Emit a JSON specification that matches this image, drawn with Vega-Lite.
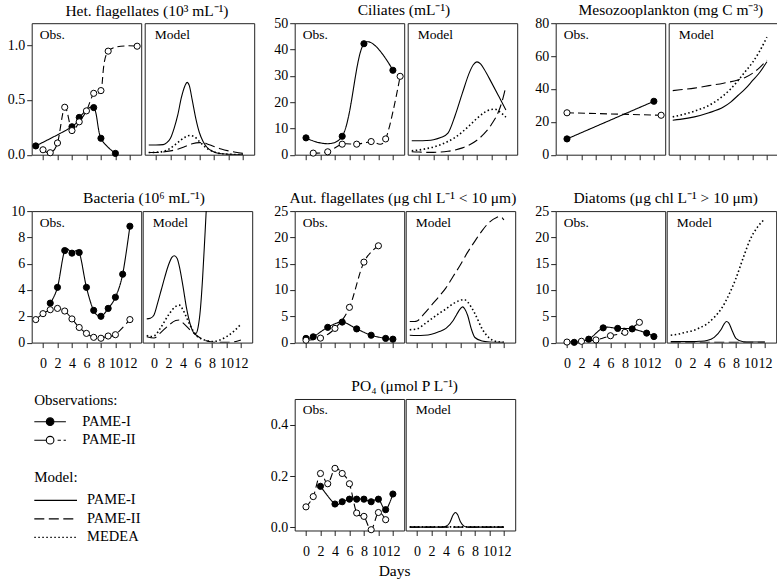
{
"$schema":"https://vega.github.io/schema/vega-lite/v6.json",
"padding":{"left":2.7,"top":3.2,"right":2,"bottom":2},
"datasets":{
"obs":[
{"panel":"het","series":"PAME-I","day":-1,"value":0.08},{"panel":"het","series":"PAME-I","day":4,"value":0.255},{"panel":"het","series":"PAME-I","day":5,"value":0.34},{"panel":"het","series":"PAME-I","day":7,"value":0.43},{"panel":"het","series":"PAME-I","day":8,"value":0.15},{"panel":"het","series":"PAME-I","day":10,"value":0.012},
{"panel":"het","series":"PAME-II","day":0,"value":0.045},{"panel":"het","series":"PAME-II","day":1,"value":0.018},{"panel":"het","series":"PAME-II","day":2,"value":0.107},{"panel":"het","series":"PAME-II","day":3,"value":0.433},{"panel":"het","series":"PAME-II","day":4,"value":0.22},{"panel":"het","series":"PAME-II","day":5,"value":0.3},{"panel":"het","series":"PAME-II","day":6,"value":0.4},{"panel":"het","series":"PAME-II","day":7,"value":0.56},{"panel":"het","series":"PAME-II","day":8,"value":0.585},{"panel":"het","series":"PAME-II","day":9,"value":0.945},{"panel":"het","series":"PAME-II","day":13,"value":0.99},
{"panel":"cil","series":"PAME-I","day":0,"value":6.4},{"panel":"cil","series":"PAME-I","day":5,"value":7.0},{"panel":"cil","series":"PAME-I","day":8,"value":42.2},{"panel":"cil","series":"PAME-I","day":12,"value":32.1},
{"panel":"cil","series":"PAME-II","day":1,"value":0.6},{"panel":"cil","series":"PAME-II","day":3,"value":1.1},{"panel":"cil","series":"PAME-II","day":5,"value":4.0},{"panel":"cil","series":"PAME-II","day":7,"value":4.0},{"panel":"cil","series":"PAME-II","day":9,"value":5.0},{"panel":"cil","series":"PAME-II","day":11,"value":6.0},{"panel":"cil","series":"PAME-II","day":13,"value":29.8},
{"panel":"meso","series":"PAME-I","day":0,"value":9.6},{"panel":"meso","series":"PAME-I","day":12,"value":32.5},
{"panel":"meso","series":"PAME-II","day":0,"value":25.5},{"panel":"meso","series":"PAME-II","day":13,"value":24.0},
{"panel":"bac","series":"PAME-I","day":1,"value":3.0},{"panel":"bac","series":"PAME-I","day":2,"value":4.2},{"panel":"bac","series":"PAME-I","day":3,"value":7.0},{"panel":"bac","series":"PAME-I","day":4,"value":6.8},{"panel":"bac","series":"PAME-I","day":5,"value":6.85},{"panel":"bac","series":"PAME-I","day":6,"value":4.2},{"panel":"bac","series":"PAME-I","day":7,"value":2.45},{"panel":"bac","series":"PAME-I","day":8,"value":2.0},{"panel":"bac","series":"PAME-I","day":9,"value":2.6},{"panel":"bac","series":"PAME-I","day":10,"value":3.45},{"panel":"bac","series":"PAME-I","day":11,"value":5.2},{"panel":"bac","series":"PAME-I","day":12,"value":8.85},
{"panel":"bac","series":"PAME-II","day":-1,"value":1.75},{"panel":"bac","series":"PAME-II","day":0,"value":2.2},{"panel":"bac","series":"PAME-II","day":1,"value":2.5},{"panel":"bac","series":"PAME-II","day":2,"value":2.6},{"panel":"bac","series":"PAME-II","day":3,"value":2.4},{"panel":"bac","series":"PAME-II","day":4,"value":1.8},{"panel":"bac","series":"PAME-II","day":5,"value":1.15},{"panel":"bac","series":"PAME-II","day":6,"value":0.7},{"panel":"bac","series":"PAME-II","day":7,"value":0.4},{"panel":"bac","series":"PAME-II","day":8,"value":0.33},{"panel":"bac","series":"PAME-II","day":9,"value":0.5},{"panel":"bac","series":"PAME-II","day":10,"value":0.6},{"panel":"bac","series":"PAME-II","day":12,"value":1.75},
{"panel":"aut","series":"PAME-I","day":0,"value":0.8},{"panel":"aut","series":"PAME-I","day":1,"value":1.1},{"panel":"aut","series":"PAME-I","day":3,"value":2.9},{"panel":"aut","series":"PAME-I","day":5,"value":3.9},{"panel":"aut","series":"PAME-I","day":7,"value":2.6},{"panel":"aut","series":"PAME-I","day":9,"value":1.4},{"panel":"aut","series":"PAME-I","day":11,"value":0.8},{"panel":"aut","series":"PAME-I","day":12,"value":0.65},
{"panel":"aut","series":"PAME-II","day":0,"value":0.45},{"panel":"aut","series":"PAME-II","day":2,"value":0.85},{"panel":"aut","series":"PAME-II","day":4,"value":2.7},{"panel":"aut","series":"PAME-II","day":6,"value":6.7},{"panel":"aut","series":"PAME-II","day":8,"value":15.3},{"panel":"aut","series":"PAME-II","day":10,"value":18.4},
{"panel":"dia","series":"PAME-I","day":1,"value":0.05},{"panel":"dia","series":"PAME-I","day":3,"value":0.65},{"panel":"dia","series":"PAME-I","day":5,"value":2.8},{"panel":"dia","series":"PAME-I","day":7,"value":2.7},{"panel":"dia","series":"PAME-I","day":9,"value":2.6},{"panel":"dia","series":"PAME-I","day":11,"value":1.8},{"panel":"dia","series":"PAME-I","day":12,"value":1.15},
{"panel":"dia","series":"PAME-II","day":0,"value":0.1},{"panel":"dia","series":"PAME-II","day":2,"value":0.25},{"panel":"dia","series":"PAME-II","day":4,"value":0.5},{"panel":"dia","series":"PAME-II","day":6,"value":1.3},{"panel":"dia","series":"PAME-II","day":8,"value":1.95},{"panel":"dia","series":"PAME-II","day":10,"value":3.85},
{"panel":"po4","series":"PAME-I","day":2,"value":0.16},{"panel":"po4","series":"PAME-I","day":4,"value":0.091},{"panel":"po4","series":"PAME-I","day":5,"value":0.1},{"panel":"po4","series":"PAME-I","day":6,"value":0.11},{"panel":"po4","series":"PAME-I","day":7,"value":0.11},{"panel":"po4","series":"PAME-I","day":8,"value":0.11},{"panel":"po4","series":"PAME-I","day":9,"value":0.1},{"panel":"po4","series":"PAME-I","day":10,"value":0.11},{"panel":"po4","series":"PAME-I","day":11,"value":0.069},{"panel":"po4","series":"PAME-I","day":12,"value":0.13},
{"panel":"po4","series":"PAME-II","day":0,"value":0.08},{"panel":"po4","series":"PAME-II","day":1,"value":0.12},{"panel":"po4","series":"PAME-II","day":2,"value":0.21},{"panel":"po4","series":"PAME-II","day":3,"value":0.17},{"panel":"po4","series":"PAME-II","day":4,"value":0.23},{"panel":"po4","series":"PAME-II","day":5,"value":0.21},{"panel":"po4","series":"PAME-II","day":6,"value":0.17},{"panel":"po4","series":"PAME-II","day":7,"value":0.056},{"panel":"po4","series":"PAME-II","day":8,"value":0.043},{"panel":"po4","series":"PAME-II","day":9,"value":-0.009},{"panel":"po4","series":"PAME-II","day":10,"value":0.058},{"panel":"po4","series":"PAME-II","day":11,"value":0.03}
],
"model":[
{"panel":"het","series":"PAME-I","day":-1,"value":0.088},{"panel":"het","series":"PAME-I","day":0,"value":0.088},{"panel":"het","series":"PAME-I","day":1,"value":0.092},{"panel":"het","series":"PAME-I","day":1.5,"value":0.11},{"panel":"het","series":"PAME-I","day":2,"value":0.15},{"panel":"het","series":"PAME-I","day":2.5,"value":0.24},{"panel":"het","series":"PAME-I","day":3,"value":0.36},{"panel":"het","series":"PAME-I","day":3.5,"value":0.52},{"panel":"het","series":"PAME-I","day":4,"value":0.63},{"panel":"het","series":"PAME-I","day":4.3,"value":0.66},{"panel":"het","series":"PAME-I","day":4.6,"value":0.63},{"panel":"het","series":"PAME-I","day":5,"value":0.5},{"panel":"het","series":"PAME-I","day":5.5,"value":0.33},{"panel":"het","series":"PAME-I","day":6,"value":0.2},{"panel":"het","series":"PAME-I","day":6.5,"value":0.12},{"panel":"het","series":"PAME-I","day":7,"value":0.07},{"panel":"het","series":"PAME-I","day":8,"value":0.025},{"panel":"het","series":"PAME-I","day":9,"value":0.008},{"panel":"het","series":"PAME-I","day":10,"value":0.003},{"panel":"het","series":"PAME-I","day":12,"value":0.001},
{"panel":"het","series":"PAME-II","day":-1,"value":0.02},{"panel":"het","series":"PAME-II","day":0,"value":0.02},{"panel":"het","series":"PAME-II","day":1,"value":0.025},{"panel":"het","series":"PAME-II","day":2,"value":0.035},{"panel":"het","series":"PAME-II","day":3,"value":0.05},{"panel":"het","series":"PAME-II","day":4,"value":0.075},{"panel":"het","series":"PAME-II","day":5,"value":0.1},{"panel":"het","series":"PAME-II","day":6,"value":0.11},{"panel":"het","series":"PAME-II","day":6.5,"value":0.11},{"panel":"het","series":"PAME-II","day":7,"value":0.1},{"panel":"het","series":"PAME-II","day":8,"value":0.075},{"panel":"het","series":"PAME-II","day":9,"value":0.052},{"panel":"het","series":"PAME-II","day":10,"value":0.035},{"panel":"het","series":"PAME-II","day":11,"value":0.022},{"panel":"het","series":"PAME-II","day":12,"value":0.012},
{"panel":"het","series":"MEDEA","day":-1,"value":0.02},{"panel":"het","series":"MEDEA","day":0,"value":0.022},{"panel":"het","series":"MEDEA","day":1,"value":0.03},{"panel":"het","series":"MEDEA","day":2,"value":0.06},{"panel":"het","series":"MEDEA","day":3,"value":0.11},{"panel":"het","series":"MEDEA","day":4,"value":0.16},{"panel":"het","series":"MEDEA","day":4.7,"value":0.175},{"panel":"het","series":"MEDEA","day":5.3,"value":0.165},{"panel":"het","series":"MEDEA","day":6,"value":0.12},{"panel":"het","series":"MEDEA","day":7,"value":0.06},{"panel":"het","series":"MEDEA","day":8,"value":0.025},{"panel":"het","series":"MEDEA","day":9,"value":0.01},{"panel":"het","series":"MEDEA","day":10,"value":0.004},{"panel":"het","series":"MEDEA","day":12,"value":0.001},
{"panel":"cil","series":"PAME-I","day":-1,"value":5.3},{"panel":"cil","series":"PAME-I","day":0,"value":5.3},{"panel":"cil","series":"PAME-I","day":1,"value":5.4},{"panel":"cil","series":"PAME-I","day":2,"value":5.7},{"panel":"cil","series":"PAME-I","day":3,"value":6.5},{"panel":"cil","series":"PAME-I","day":4,"value":8.2},{"panel":"cil","series":"PAME-I","day":5,"value":15},{"panel":"cil","series":"PAME-I","day":6,"value":23.5},{"panel":"cil","series":"PAME-I","day":7,"value":31.5},{"panel":"cil","series":"PAME-I","day":7.5,"value":34.2},{"panel":"cil","series":"PAME-I","day":8,"value":35.3},{"panel":"cil","series":"PAME-I","day":8.5,"value":34.5},{"panel":"cil","series":"PAME-I","day":9,"value":32.5},{"panel":"cil","series":"PAME-I","day":10,"value":27.5},{"panel":"cil","series":"PAME-I","day":11,"value":22.3},{"panel":"cil","series":"PAME-I","day":12,"value":17},
{"panel":"cil","series":"PAME-II","day":-1,"value":1.1},{"panel":"cil","series":"PAME-II","day":0,"value":1.0},{"panel":"cil","series":"PAME-II","day":1,"value":0.9},{"panel":"cil","series":"PAME-II","day":2,"value":0.9},{"panel":"cil","series":"PAME-II","day":3,"value":1.0},{"panel":"cil","series":"PAME-II","day":4,"value":1.3},{"panel":"cil","series":"PAME-II","day":5,"value":1.8},{"panel":"cil","series":"PAME-II","day":6,"value":2.6},{"panel":"cil","series":"PAME-II","day":7,"value":3.8},{"panel":"cil","series":"PAME-II","day":8,"value":5.5},{"panel":"cil","series":"PAME-II","day":9,"value":8.0},{"panel":"cil","series":"PAME-II","day":10,"value":11.5},{"panel":"cil","series":"PAME-II","day":11,"value":16.5},{"panel":"cil","series":"PAME-II","day":11.5,"value":20.5},{"panel":"cil","series":"PAME-II","day":12,"value":26},
{"panel":"cil","series":"MEDEA","day":-1,"value":1.5},{"panel":"cil","series":"MEDEA","day":0,"value":1.8},{"panel":"cil","series":"MEDEA","day":1,"value":2.3},{"panel":"cil","series":"MEDEA","day":2,"value":2.9},{"panel":"cil","series":"MEDEA","day":3,"value":3.8},{"panel":"cil","series":"MEDEA","day":4,"value":5.0},{"panel":"cil","series":"MEDEA","day":5,"value":6.6},{"panel":"cil","series":"MEDEA","day":6,"value":8.7},{"panel":"cil","series":"MEDEA","day":7,"value":11.2},{"panel":"cil","series":"MEDEA","day":8,"value":13.8},{"panel":"cil","series":"MEDEA","day":9,"value":16},{"panel":"cil","series":"MEDEA","day":10,"value":17.2},{"panel":"cil","series":"MEDEA","day":10.5,"value":17.3},{"panel":"cil","series":"MEDEA","day":11,"value":16.6},{"panel":"cil","series":"MEDEA","day":12,"value":14.3},
{"panel":"meso","series":"PAME-I","day":-1,"value":21},{"panel":"meso","series":"PAME-I","day":0,"value":21.5},{"panel":"meso","series":"PAME-I","day":2,"value":23},{"panel":"meso","series":"PAME-I","day":4,"value":25.5},{"panel":"meso","series":"PAME-I","day":6,"value":29},{"panel":"meso","series":"PAME-I","day":7,"value":32},{"panel":"meso","series":"PAME-I","day":8,"value":36},{"panel":"meso","series":"PAME-I","day":9,"value":40},{"panel":"meso","series":"PAME-I","day":10,"value":45},{"panel":"meso","series":"PAME-I","day":11,"value":50},{"panel":"meso","series":"PAME-I","day":12,"value":56.5},
{"panel":"meso","series":"PAME-II","day":-1,"value":39},{"panel":"meso","series":"PAME-II","day":0,"value":39.5},{"panel":"meso","series":"PAME-II","day":2,"value":40.5},{"panel":"meso","series":"PAME-II","day":4,"value":42},{"panel":"meso","series":"PAME-II","day":6,"value":43.5},{"panel":"meso","series":"PAME-II","day":8,"value":45.5},{"panel":"meso","series":"PAME-II","day":9,"value":47},{"panel":"meso","series":"PAME-II","day":10,"value":49.5},{"panel":"meso","series":"PAME-II","day":11,"value":53},{"panel":"meso","series":"PAME-II","day":12,"value":57.5},
{"panel":"meso","series":"MEDEA","day":-1,"value":23},{"panel":"meso","series":"MEDEA","day":0,"value":24},{"panel":"meso","series":"MEDEA","day":2,"value":26.5},{"panel":"meso","series":"MEDEA","day":4,"value":30},{"panel":"meso","series":"MEDEA","day":6,"value":36},{"panel":"meso","series":"MEDEA","day":7,"value":40},{"panel":"meso","series":"MEDEA","day":8,"value":45},{"panel":"meso","series":"MEDEA","day":9,"value":50.5},{"panel":"meso","series":"MEDEA","day":10,"value":56},{"panel":"meso","series":"MEDEA","day":11,"value":63},{"panel":"meso","series":"MEDEA","day":12,"value":71.5},
{"panel":"bac","series":"PAME-I","day":-1,"value":1.8},{"panel":"bac","series":"PAME-I","day":-0.5,"value":1.85},{"panel":"bac","series":"PAME-I","day":0,"value":2.1},{"panel":"bac","series":"PAME-I","day":0.5,"value":3.0},{"panel":"bac","series":"PAME-I","day":1,"value":4.0},{"panel":"bac","series":"PAME-I","day":1.5,"value":5.0},{"panel":"bac","series":"PAME-I","day":2,"value":5.9},{"panel":"bac","series":"PAME-I","day":2.5,"value":6.5},{"panel":"bac","series":"PAME-I","day":2.8,"value":6.6},{"panel":"bac","series":"PAME-I","day":3.2,"value":6.4},{"panel":"bac","series":"PAME-I","day":3.5,"value":5.8},{"panel":"bac","series":"PAME-I","day":4,"value":4.3},{"panel":"bac","series":"PAME-I","day":4.5,"value":2.6},{"panel":"bac","series":"PAME-I","day":5,"value":1.4},{"panel":"bac","series":"PAME-I","day":5.5,"value":0.75},{"panel":"bac","series":"PAME-I","day":5.8,"value":0.7},{"panel":"bac","series":"PAME-I","day":6.1,"value":1.2},{"panel":"bac","series":"PAME-I","day":6.4,"value":2.5},{"panel":"bac","series":"PAME-I","day":6.7,"value":4.8},{"panel":"bac","series":"PAME-I","day":7,"value":7.8},{"panel":"bac","series":"PAME-I","day":7.3,"value":11},{"panel":"bac","series":"PAME-I","day":7.6,"value":15},
{"panel":"bac","series":"PAME-II","day":-1,"value":0.45},{"panel":"bac","series":"PAME-II","day":0,"value":0.35},{"panel":"bac","series":"PAME-II","day":1,"value":0.8},{"panel":"bac","series":"PAME-II","day":2,"value":1.3},{"panel":"bac","series":"PAME-II","day":3,"value":1.68},{"panel":"bac","series":"PAME-II","day":3.5,"value":1.72},{"panel":"bac","series":"PAME-II","day":4,"value":1.5},{"panel":"bac","series":"PAME-II","day":5,"value":0.95},{"panel":"bac","series":"PAME-II","day":6,"value":0.5},{"panel":"bac","series":"PAME-II","day":7,"value":0.18},{"panel":"bac","series":"PAME-II","day":8,"value":0.05},{"panel":"bac","series":"PAME-II","day":9,"value":0.02},{"panel":"bac","series":"PAME-II","day":10,"value":0.02},{"panel":"bac","series":"PAME-II","day":11,"value":0.05},{"panel":"bac","series":"PAME-II","day":12,"value":0.2},
{"panel":"bac","series":"MEDEA","day":-1,"value":0.55},{"panel":"bac","series":"MEDEA","day":-0.5,"value":0.45},{"panel":"bac","series":"MEDEA","day":0,"value":0.5},{"panel":"bac","series":"MEDEA","day":1,"value":1.2},{"panel":"bac","series":"MEDEA","day":2,"value":2.1},{"panel":"bac","series":"MEDEA","day":3,"value":2.75},{"panel":"bac","series":"MEDEA","day":3.5,"value":2.85},{"panel":"bac","series":"MEDEA","day":4,"value":2.5},{"panel":"bac","series":"MEDEA","day":4.5,"value":1.9},{"panel":"bac","series":"MEDEA","day":5,"value":1.3},{"panel":"bac","series":"MEDEA","day":5.5,"value":0.8},{"panel":"bac","series":"MEDEA","day":6,"value":0.45},{"panel":"bac","series":"MEDEA","day":7,"value":0.2},{"panel":"bac","series":"MEDEA","day":8,"value":0.08},{"panel":"bac","series":"MEDEA","day":9,"value":0.18},{"panel":"bac","series":"MEDEA","day":10,"value":0.45},{"panel":"bac","series":"MEDEA","day":11,"value":0.85},{"panel":"bac","series":"MEDEA","day":12,"value":1.4},
{"panel":"aut","series":"PAME-I","day":-1,"value":1.4},{"panel":"aut","series":"PAME-I","day":0,"value":1.35},{"panel":"aut","series":"PAME-I","day":1,"value":1.4},{"panel":"aut","series":"PAME-I","day":2,"value":1.6},{"panel":"aut","series":"PAME-I","day":3,"value":2.05},{"panel":"aut","series":"PAME-I","day":4,"value":2.7},{"panel":"aut","series":"PAME-I","day":5,"value":4.2},{"panel":"aut","series":"PAME-I","day":5.5,"value":5.4},{"panel":"aut","series":"PAME-I","day":6,"value":6.45},{"panel":"aut","series":"PAME-I","day":6.3,"value":6.8},{"panel":"aut","series":"PAME-I","day":6.6,"value":6.4},{"panel":"aut","series":"PAME-I","day":7,"value":5.15},{"panel":"aut","series":"PAME-I","day":7.5,"value":2.6},{"panel":"aut","series":"PAME-I","day":8,"value":0.97},{"panel":"aut","series":"PAME-I","day":9,"value":0.3},{"panel":"aut","series":"PAME-I","day":10,"value":0.1},{"panel":"aut","series":"PAME-I","day":11,"value":0.05},{"panel":"aut","series":"PAME-I","day":12,"value":0.05},
{"panel":"aut","series":"PAME-II","day":-1,"value":4.0},{"panel":"aut","series":"PAME-II","day":-0.3,"value":4.0},{"panel":"aut","series":"PAME-II","day":0,"value":4.1},{"panel":"aut","series":"PAME-II","day":1,"value":5.5},{"panel":"aut","series":"PAME-II","day":2,"value":7.1},{"panel":"aut","series":"PAME-II","day":3,"value":8.7},{"panel":"aut","series":"PAME-II","day":4,"value":10.4},{"panel":"aut","series":"PAME-II","day":5,"value":12.6},{"panel":"aut","series":"PAME-II","day":6,"value":14.8},{"panel":"aut","series":"PAME-II","day":7,"value":17.2},{"panel":"aut","series":"PAME-II","day":8,"value":19.3},{"panel":"aut","series":"PAME-II","day":9,"value":21.3},{"panel":"aut","series":"PAME-II","day":10,"value":22.9},{"panel":"aut","series":"PAME-II","day":11,"value":23.8},{"panel":"aut","series":"PAME-II","day":11.5,"value":24},{"panel":"aut","series":"PAME-II","day":12,"value":23.3},
{"panel":"aut","series":"MEDEA","day":-1,"value":2.45},{"panel":"aut","series":"MEDEA","day":0,"value":2.6},{"panel":"aut","series":"MEDEA","day":1,"value":3.5},{"panel":"aut","series":"MEDEA","day":2,"value":4.5},{"panel":"aut","series":"MEDEA","day":3,"value":5.5},{"panel":"aut","series":"MEDEA","day":4,"value":6.4},{"panel":"aut","series":"MEDEA","day":5,"value":7.4},{"panel":"aut","series":"MEDEA","day":6,"value":8.05},{"panel":"aut","series":"MEDEA","day":6.5,"value":8.2},{"panel":"aut","series":"MEDEA","day":7,"value":7.7},{"panel":"aut","series":"MEDEA","day":8,"value":5.5},{"panel":"aut","series":"MEDEA","day":9,"value":2.6},{"panel":"aut","series":"MEDEA","day":10,"value":0.85},{"panel":"aut","series":"MEDEA","day":11,"value":0.2},{"panel":"aut","series":"MEDEA","day":12,"value":0.05},
{"panel":"dia","series":"PAME-I","day":-1,"value":0.2},{"panel":"dia","series":"PAME-I","day":0,"value":0.2},{"panel":"dia","series":"PAME-I","day":1,"value":0.2},{"panel":"dia","series":"PAME-I","day":2,"value":0.2},{"panel":"dia","series":"PAME-I","day":3,"value":0.25},{"panel":"dia","series":"PAME-I","day":4,"value":0.4},{"panel":"dia","series":"PAME-I","day":5,"value":1.0},{"panel":"dia","series":"PAME-I","day":6,"value":2.6},{"panel":"dia","series":"PAME-I","day":6.4,"value":3.6},{"panel":"dia","series":"PAME-I","day":6.7,"value":4.0},{"panel":"dia","series":"PAME-I","day":7,"value":3.75},{"panel":"dia","series":"PAME-I","day":7.5,"value":2.2},{"panel":"dia","series":"PAME-I","day":8,"value":0.8},{"panel":"dia","series":"PAME-I","day":9,"value":0.15},{"panel":"dia","series":"PAME-I","day":10,"value":0.1},{"panel":"dia","series":"PAME-I","day":12,"value":0.1},
{"panel":"dia","series":"PAME-II","day":-1,"value":0.05},{"panel":"dia","series":"PAME-II","day":4,"value":0.05},{"panel":"dia","series":"PAME-II","day":8,"value":0.05},{"panel":"dia","series":"PAME-II","day":12,"value":0.05},
{"panel":"dia","series":"MEDEA","day":-1,"value":1.4},{"panel":"dia","series":"MEDEA","day":0,"value":1.6},{"panel":"dia","series":"MEDEA","day":1,"value":1.95},{"panel":"dia","series":"MEDEA","day":2,"value":2.25},{"panel":"dia","series":"MEDEA","day":3,"value":2.8},{"panel":"dia","series":"MEDEA","day":4,"value":3.55},{"panel":"dia","series":"MEDEA","day":5,"value":4.8},{"panel":"dia","series":"MEDEA","day":6,"value":6.45},{"panel":"dia","series":"MEDEA","day":7,"value":9.0},{"panel":"dia","series":"MEDEA","day":8,"value":12.2},{"panel":"dia","series":"MEDEA","day":9,"value":16.1},{"panel":"dia","series":"MEDEA","day":10,"value":19.7},{"panel":"dia","series":"MEDEA","day":11,"value":22},{"panel":"dia","series":"MEDEA","day":12,"value":23.5},
{"panel":"po4","series":"PAME-I","day":-1,"value":0.001},{"panel":"po4","series":"PAME-I","day":3.5,"value":0.001},{"panel":"po4","series":"PAME-I","day":4,"value":0.004},{"panel":"po4","series":"PAME-I","day":4.5,"value":0.017},{"panel":"po4","series":"PAME-I","day":5,"value":0.049},{"panel":"po4","series":"PAME-I","day":5.3,"value":0.058},{"panel":"po4","series":"PAME-I","day":5.6,"value":0.05},{"panel":"po4","series":"PAME-I","day":6,"value":0.022},{"panel":"po4","series":"PAME-I","day":6.5,"value":0.005},{"panel":"po4","series":"PAME-I","day":7,"value":0.001},{"panel":"po4","series":"PAME-I","day":12,"value":0.001},
{"panel":"po4","series":"PAME-II","day":-1,"value":0.001},{"panel":"po4","series":"PAME-II","day":12,"value":0.001},
{"panel":"po4","series":"MEDEA","day":-1,"value":0.002},{"panel":"po4","series":"MEDEA","day":12,"value":0.002}
]
},
"columns":3,
"spacing":{"row":7.9,"column":9},
"resolve":{"scale":{"fill":"independent","strokeDash":"independent"},"legend":{"fill":"independent","strokeDash":"independent"}},
"concat":[
{"title":{"text":"Het. flagellates (10³ mL⁻¹)","anchor":"middle","fontSize":15.5,"offset":-8.5,"dx":18,"baseline":"alphabetic"},"spacing":0,"hconcat":[
 {"width":109.5,"height":131.5,"title":{"text":"Obs.","anchor":"start","frame":"group","baseline":"top","offset":-18,"dx":8,"fontSize":13.5},
  "encoding":{"x":{"field":"day","type":"quantitative","scale":{"domain":[-1.56,13.56],"nice":false,"zero":false},"axis":{"values":[0,2,4,6,8,10,12],"labels":false,"title":null}},
   "y":{"field":"value","type":"quantitative","scale":{"domain":[0,1.2],"nice":false,"zero":false},"axis":{"values":[0,0.5,1],"format":".1f","title":null}}},
  "layer":[
   {"data":{"name":"obs"},"transform":[{"filter":"datum.panel=='het'"}],"mark":{"type":"line","interpolate":"cardinal","color":"black","strokeWidth":1.1,"clip":true},"encoding":{"strokeDash":{"field":"series","type":"nominal","scale":{"domain":["PAME-I","PAME-II"],"range":[[1,0],[7,4]]},"legend":null}}},
   {"data":{"name":"obs"},"transform":[{"filter":"datum.panel=='het'"}],"mark":{"type":"point","shape":"circle","filled":true,"size":38,"stroke":"black","strokeWidth":1,"opacity":1},"encoding":{"fill":{"field":"series","type":"nominal","scale":{"domain":["PAME-I","PAME-II"],"range":["black","white"]},"legend":null}}}]},
 {"width":109.5,"height":131.5,"title":{"text":"Model","anchor":"start","frame":"group","baseline":"top","offset":-18,"dx":10,"fontSize":13.5},
  "encoding":{"x":{"field":"day","type":"quantitative","scale":{"domain":[-1.56,13.56],"nice":false,"zero":false},"axis":{"values":[0,2,4,6,8,10,12],"labels":false,"title":null}},
   "y":{"field":"value","type":"quantitative","scale":{"domain":[0,1.2],"nice":false,"zero":false},"axis":null}},
  "layer":[
   {"data":{"name":"model"},"transform":[{"filter":"datum.panel=='het' && datum.series=='PAME-I'"}],"mark":{"type":"line","interpolate":"monotone","color":"black","strokeWidth":1.1,"clip":true},"encoding":{}},
   {"data":{"name":"model"},"transform":[{"filter":"datum.panel=='het' && datum.series=='PAME-II'"}],"mark":{"type":"line","interpolate":"monotone","color":"black","strokeWidth":1.1,"strokeDash":[10,4.5],"clip":true},"encoding":{}},
   {"data":{"name":"model"},"transform":[{"filter":"datum.panel=='het' && datum.series=='MEDEA'"}],"mark":{"type":"line","interpolate":"monotone","color":"black","strokeWidth":1.6,"strokeDash":[1.5,2.5],"clip":true},"encoding":{}}]}
]},
{"title":{"text":"Ciliates (mL⁻¹)","anchor":"middle","fontSize":15.5,"offset":-15,"dx":12,"baseline":"alphabetic"},"spacing":0,"hconcat":[
 {"width":109.5,"height":131.5,"title":{"text":"Obs.","anchor":"start","frame":"group","baseline":"top","offset":-25.8,"dx":8,"fontSize":13.5},
  "encoding":{"x":{"field":"day","type":"quantitative","scale":{"domain":[-1.56,13.56],"nice":false,"zero":false},"axis":{"values":[0,2,4,6,8,10,12],"labels":false,"title":null}},
   "y":{"field":"value","type":"quantitative","scale":{"domain":[0,50],"nice":false,"zero":false},"axis":{"values":[0,10,20,30,40,50],"title":null}}},
  "layer":[
   {"data":{"name":"obs"},"transform":[{"filter":"datum.panel=='cil'"}],"mark":{"type":"line","interpolate":"cardinal","color":"black","strokeWidth":1.1,"clip":true},"encoding":{"strokeDash":{"field":"series","type":"nominal","scale":{"domain":["PAME-I","PAME-II"],"range":[[1,0],[7,4]]},"legend":null}}},
   {"data":{"name":"obs"},"transform":[{"filter":"datum.panel=='cil'"}],"mark":{"type":"point","shape":"circle","filled":true,"size":38,"stroke":"black","strokeWidth":1,"opacity":1},"encoding":{"fill":{"field":"series","type":"nominal","scale":{"domain":["PAME-I","PAME-II"],"range":["black","white"]},"legend":null}}}]},
 {"width":109.5,"height":131.5,"title":{"text":"Model","anchor":"start","frame":"group","baseline":"top","offset":-18,"dx":10,"fontSize":13.5},
  "encoding":{"x":{"field":"day","type":"quantitative","scale":{"domain":[-1.56,13.56],"nice":false,"zero":false},"axis":{"values":[0,2,4,6,8,10,12],"labels":false,"title":null}},
   "y":{"field":"value","type":"quantitative","scale":{"domain":[0,50],"nice":false,"zero":false},"axis":null}},
  "layer":[
   {"data":{"name":"model"},"transform":[{"filter":"datum.panel=='cil' && datum.series=='PAME-I'"}],"mark":{"type":"line","interpolate":"monotone","color":"black","strokeWidth":1.1,"clip":true},"encoding":{}},
   {"data":{"name":"model"},"transform":[{"filter":"datum.panel=='cil' && datum.series=='PAME-II'"}],"mark":{"type":"line","interpolate":"monotone","color":"black","strokeWidth":1.1,"strokeDash":[10,4.5],"clip":true},"encoding":{}},
   {"data":{"name":"model"},"transform":[{"filter":"datum.panel=='cil' && datum.series=='MEDEA'"}],"mark":{"type":"line","interpolate":"monotone","color":"black","strokeWidth":1.6,"strokeDash":[1.5,2.5],"clip":true},"encoding":{}}]}
]},
{"title":{"text":"Mesozooplankton (mg C m⁻³)","anchor":"middle","fontSize":15.5,"offset":-15,"dx":18,"baseline":"alphabetic"},"spacing":0,"hconcat":[
 {"width":109.5,"height":131.5,"title":{"text":"Obs.","anchor":"start","frame":"group","baseline":"top","offset":-25.8,"dx":8,"fontSize":13.5},
  "encoding":{"x":{"field":"day","type":"quantitative","scale":{"domain":[-1.56,13.56],"nice":false,"zero":false},"axis":{"values":[0,2,4,6,8,10,12],"labels":false,"title":null}},
   "y":{"field":"value","type":"quantitative","scale":{"domain":[0,80],"nice":false,"zero":false},"axis":{"values":[0,20,40,60,80],"title":null}}},
  "layer":[
   {"data":{"name":"obs"},"transform":[{"filter":"datum.panel=='meso'"}],"mark":{"type":"line","interpolate":"cardinal","color":"black","strokeWidth":1.1,"clip":true},"encoding":{"strokeDash":{"field":"series","type":"nominal","scale":{"domain":["PAME-I","PAME-II"],"range":[[1,0],[7,4]]},"legend":null}}},
   {"data":{"name":"obs"},"transform":[{"filter":"datum.panel=='meso'"}],"mark":{"type":"point","shape":"circle","filled":true,"size":38,"stroke":"black","strokeWidth":1,"opacity":1},"encoding":{"fill":{"field":"series","type":"nominal","scale":{"domain":["PAME-I","PAME-II"],"range":["black","white"]},"legend":null}}}]},
 {"width":109.5,"height":131.5,"title":{"text":"Model","anchor":"start","frame":"group","baseline":"top","offset":-18,"dx":10,"fontSize":13.5},
  "encoding":{"x":{"field":"day","type":"quantitative","scale":{"domain":[-1.56,13.56],"nice":false,"zero":false},"axis":{"values":[0,2,4,6,8,10,12],"labels":false,"title":null}},
   "y":{"field":"value","type":"quantitative","scale":{"domain":[0,80],"nice":false,"zero":false},"axis":null}},
  "layer":[
   {"data":{"name":"model"},"transform":[{"filter":"datum.panel=='meso' && datum.series=='PAME-I'"}],"mark":{"type":"line","interpolate":"monotone","color":"black","strokeWidth":1.1,"clip":true},"encoding":{}},
   {"data":{"name":"model"},"transform":[{"filter":"datum.panel=='meso' && datum.series=='PAME-II'"}],"mark":{"type":"line","interpolate":"monotone","color":"black","strokeWidth":1.1,"strokeDash":[10,4.5],"clip":true},"encoding":{}},
   {"data":{"name":"model"},"transform":[{"filter":"datum.panel=='meso' && datum.series=='MEDEA'"}],"mark":{"type":"line","interpolate":"monotone","color":"black","strokeWidth":1.6,"strokeDash":[1.5,2.5],"clip":true},"encoding":{}}]}
]},
{"title":{"text":"Bacteria (10⁶ mL⁻¹)","anchor":"middle","fontSize":15.5,"offset":-15,"dx":16,"baseline":"alphabetic"},"spacing":0,"hconcat":[
 {"width":109.5,"height":131.5,"title":{"text":"Obs.","anchor":"start","frame":"group","baseline":"top","offset":-25.8,"dx":8,"fontSize":13.5},
  "encoding":{"x":{"field":"day","type":"quantitative","scale":{"domain":[-1.56,13.56],"nice":false,"zero":false},"axis":{"values":[0,2,4,6,8,10,12],"labels":true,"title":null}},
   "y":{"field":"value","type":"quantitative","scale":{"domain":[0,10],"nice":false,"zero":false},"axis":{"values":[0,2,4,6,8,10],"title":null}}},
  "layer":[
   {"data":{"name":"obs"},"transform":[{"filter":"datum.panel=='bac'"}],"mark":{"type":"line","interpolate":"cardinal","color":"black","strokeWidth":1.1,"clip":true},"encoding":{"strokeDash":{"field":"series","type":"nominal","scale":{"domain":["PAME-I","PAME-II"],"range":[[1,0],[7,4]]},"legend":null}}},
   {"data":{"name":"obs"},"transform":[{"filter":"datum.panel=='bac'"}],"mark":{"type":"point","shape":"circle","filled":true,"size":38,"stroke":"black","strokeWidth":1,"opacity":1},"encoding":{"fill":{"field":"series","type":"nominal","scale":{"domain":["PAME-I","PAME-II"],"range":["black","white"]},"legend":null}}}]},
 {"width":109.5,"height":131.5,"title":{"text":"Model","anchor":"start","frame":"group","baseline":"top","offset":-18,"dx":10,"fontSize":13.5},
  "encoding":{"x":{"field":"day","type":"quantitative","scale":{"domain":[-1.56,13.56],"nice":false,"zero":false},"axis":{"values":[0,2,4,6,8,10,12],"labels":true,"title":null}},
   "y":{"field":"value","type":"quantitative","scale":{"domain":[0,10],"nice":false,"zero":false},"axis":null}},
  "layer":[
   {"data":{"name":"model"},"transform":[{"filter":"datum.panel=='bac' && datum.series=='PAME-I'"}],"mark":{"type":"line","interpolate":"monotone","color":"black","strokeWidth":1.1,"clip":true},"encoding":{}},
   {"data":{"name":"model"},"transform":[{"filter":"datum.panel=='bac' && datum.series=='PAME-II'"}],"mark":{"type":"line","interpolate":"monotone","color":"black","strokeWidth":1.1,"strokeDash":[10,4.5],"clip":true},"encoding":{}},
   {"data":{"name":"model"},"transform":[{"filter":"datum.panel=='bac' && datum.series=='MEDEA'"}],"mark":{"type":"line","interpolate":"monotone","color":"black","strokeWidth":1.6,"strokeDash":[1.5,2.5],"clip":true},"encoding":{}}]}
]},
{"title":{"text":"Aut. flagellates (μg chl L⁻¹ < 10 μm)","anchor":"middle","fontSize":15.5,"offset":-15,"dx":12,"baseline":"alphabetic"},"spacing":0,"hconcat":[
 {"width":109.5,"height":131.5,"title":{"text":"Obs.","anchor":"start","frame":"group","baseline":"top","offset":-25.8,"dx":8,"fontSize":13.5},
  "encoding":{"x":{"field":"day","type":"quantitative","scale":{"domain":[-1.56,13.56],"nice":false,"zero":false},"axis":{"values":[0,2,4,6,8,10,12],"labels":false,"title":null}},
   "y":{"field":"value","type":"quantitative","scale":{"domain":[0,25],"nice":false,"zero":false},"axis":{"values":[0,5,10,15,20,25],"title":null}}},
  "layer":[
   {"data":{"name":"obs"},"transform":[{"filter":"datum.panel=='aut'"}],"mark":{"type":"line","interpolate":"cardinal","color":"black","strokeWidth":1.1,"clip":true},"encoding":{"strokeDash":{"field":"series","type":"nominal","scale":{"domain":["PAME-I","PAME-II"],"range":[[1,0],[7,4]]},"legend":null}}},
   {"data":{"name":"obs"},"transform":[{"filter":"datum.panel=='aut'"}],"mark":{"type":"point","shape":"circle","filled":true,"size":38,"stroke":"black","strokeWidth":1,"opacity":1},"encoding":{"fill":{"field":"series","type":"nominal","scale":{"domain":["PAME-I","PAME-II"],"range":["black","white"]},"legend":null}}}]},
 {"width":109.5,"height":131.5,"title":{"text":"Model","anchor":"start","frame":"group","baseline":"top","offset":-18,"dx":10,"fontSize":13.5},
  "encoding":{"x":{"field":"day","type":"quantitative","scale":{"domain":[-1.56,13.56],"nice":false,"zero":false},"axis":{"values":[0,2,4,6,8,10,12],"labels":false,"title":null}},
   "y":{"field":"value","type":"quantitative","scale":{"domain":[0,25],"nice":false,"zero":false},"axis":null}},
  "layer":[
   {"data":{"name":"model"},"transform":[{"filter":"datum.panel=='aut' && datum.series=='PAME-I'"}],"mark":{"type":"line","interpolate":"monotone","color":"black","strokeWidth":1.1,"clip":true},"encoding":{}},
   {"data":{"name":"model"},"transform":[{"filter":"datum.panel=='aut' && datum.series=='PAME-II'"}],"mark":{"type":"line","interpolate":"monotone","color":"black","strokeWidth":1.1,"strokeDash":[10,4.5],"clip":true},"encoding":{}},
   {"data":{"name":"model"},"transform":[{"filter":"datum.panel=='aut' && datum.series=='MEDEA'"}],"mark":{"type":"line","interpolate":"monotone","color":"black","strokeWidth":1.6,"strokeDash":[1.5,2.5],"clip":true},"encoding":{}}]}
]},
{"title":{"text":"Diatoms (μg chl L⁻¹ > 10 μm)","anchor":"middle","fontSize":15.5,"offset":-15,"dx":13.75,"baseline":"alphabetic"},"spacing":0,"hconcat":[
 {"width":109.5,"height":131.5,"title":{"text":"Obs.","anchor":"start","frame":"group","baseline":"top","offset":-25.8,"dx":8,"fontSize":13.5},
  "encoding":{"x":{"field":"day","type":"quantitative","scale":{"domain":[-1.56,13.56],"nice":false,"zero":false},"axis":{"values":[0,2,4,6,8,10,12],"labels":true,"title":null}},
   "y":{"field":"value","type":"quantitative","scale":{"domain":[0,25],"nice":false,"zero":false},"axis":{"values":[0,5,10,15,20,25],"title":null}}},
  "layer":[
   {"data":{"name":"obs"},"transform":[{"filter":"datum.panel=='dia'"}],"mark":{"type":"line","interpolate":"cardinal","color":"black","strokeWidth":1.1,"clip":true},"encoding":{"strokeDash":{"field":"series","type":"nominal","scale":{"domain":["PAME-I","PAME-II"],"range":[[1,0],[7,4]]},"legend":null}}},
   {"data":{"name":"obs"},"transform":[{"filter":"datum.panel=='dia'"}],"mark":{"type":"point","shape":"circle","filled":true,"size":38,"stroke":"black","strokeWidth":1,"opacity":1},"encoding":{"fill":{"field":"series","type":"nominal","scale":{"domain":["PAME-I","PAME-II"],"range":["black","white"]},"legend":null}}}]},
 {"width":109.5,"height":131.5,"title":{"text":"Model","anchor":"start","frame":"group","baseline":"top","offset":-18,"dx":10,"fontSize":13.5},
  "encoding":{"x":{"field":"day","type":"quantitative","scale":{"domain":[-1.56,13.56],"nice":false,"zero":false},"axis":{"values":[0,2,4,6,8,10,12],"labels":true,"title":null}},
   "y":{"field":"value","type":"quantitative","scale":{"domain":[0,25],"nice":false,"zero":false},"axis":null}},
  "layer":[
   {"data":{"name":"model"},"transform":[{"filter":"datum.panel=='dia' && datum.series=='PAME-I'"}],"mark":{"type":"line","interpolate":"monotone","color":"black","strokeWidth":1.1,"clip":true},"encoding":{}},
   {"data":{"name":"model"},"transform":[{"filter":"datum.panel=='dia' && datum.series=='PAME-II'"}],"mark":{"type":"line","interpolate":"monotone","color":"black","strokeWidth":1.1,"strokeDash":[10,4.5],"clip":true},"encoding":{}},
   {"data":{"name":"model"},"transform":[{"filter":"datum.panel=='dia' && datum.series=='MEDEA'"}],"mark":{"type":"line","interpolate":"monotone","color":"black","strokeWidth":1.6,"strokeDash":[1.5,2.5],"clip":true},"encoding":{}}]}
]},
{"width":225,"height":131.5,"view":{"stroke":null},
 "resolve":{"scale":{"fill":"independent","strokeDash":"independent"},"legend":{"fill":"independent","strokeDash":"independent"}},
 "layer":[
  {"data":{"name":"obs"},"transform":[{"filter":"datum.panel=='po4'"}],"mark":{"type":"point","filled":true,"stroke":"black","opacity":0},
   "encoding":{"fill":{"field":"series","type":"nominal","scale":{"domain":["PAME-I","PAME-II"],"range":["black","white"]},
     "legend":{"orient":"none","legendX":2.6,"legendY":-5.8,"title":"Observations:","padding":0,"titleFont":"Liberation Serif","titleFontSize":15,"titleFontWeight":"normal","titleColor":"black","titlePadding":6.25,"labelFont":"Liberation Serif","labelFontSize":14.5,"labelColor":"black","labelOffset":24.9,"rowPadding":3.5,"symbolSize":100,"symbolOffset":8.55,"symbolStrokeColor":"black","symbolStrokeWidth":1.1,
      "encode":{"symbols":{"update":{"shape":{"signal":"datum.value === 'PAME-I' ? 'M-3.16,0H3.16M0.76,0A0.76,0.76,0,1,1,-0.76,0A0.76,0.76,0,1,1,0.76,0Z' : 'M-3.16,0H-0.76M0.76,0A0.76,0.76,0,1,1,-0.76,0A0.76,0.76,0,1,1,0.76,0ZM1.5,0H2.16M2.7,0H3.16'"},"stroke":{"value":"black"},"strokeWidth":{"value":1.1},"size":{"value":100},"opacity":{"value":1},"fillOpacity":{"value":1},"strokeOpacity":{"value":1}}}}}}}},
  {"data":{"name":"model"},"transform":[{"filter":"datum.panel=='po4'"}],"mark":{"type":"line","color":"black","opacity":0},
   "encoding":{"strokeDash":{"field":"series","type":"nominal","scale":{"domain":["PAME-I","PAME-II","MEDEA"],"range":[[1,0],[10,4.5],[1.5,2.5]]},
     "legend":{"orient":"none","legendX":2.6,"legendY":71.2,"title":"Model:","padding":0,"titleFont":"Liberation Serif","titleFontSize":15,"titleFontWeight":"normal","titleColor":"black","titlePadding":7.95,"labelFont":"Liberation Serif","labelFontSize":14.5,"labelColor":"black","labelOffset":24.2,"rowPadding":3.5,"symbolType":"stroke","symbolSize":100,"symbolOffset":14.1,"symbolStrokeColor":"black","symbolStrokeWidth":1.3,
      "encode":{"symbols":{"update":{"shape":{"value":"M-4.27,0H4.27"},"size":{"value":100},"fill":{"value":"transparent"},"strokeDash":{"signal":"datum.value === 'PAME-II' ? [10,4.5] : datum.value === 'MEDEA' ? [1.5,2.5] : [1,0]"},"stroke":{"value":"black"},"strokeWidth":{"value":1.3},"opacity":{"value":1},"strokeOpacity":{"value":1}}}}}}}}
 ]},
{"title":{"text":"Days","orient":"bottom","anchor":"middle","baseline":"top","offset":5.2,"dx":3.6,"fontSize":15.5},"vconcat":[
{"title":{"text":"PO₄ (μmol P L⁻¹)","anchor":"middle","fontSize":15.5,"offset":-8.5,"dx":13.75,"baseline":"alphabetic"},"spacing":0,"hconcat":[
 {"width":109.5,"height":131.5,"title":{"text":"Obs.","anchor":"start","frame":"group","baseline":"top","offset":-18,"dx":8,"fontSize":13.5},
  "encoding":{"x":{"field":"day","type":"quantitative","scale":{"domain":[-1.56,13.56],"nice":false,"zero":false},"axis":{"values":[0,2,4,6,8,10,12],"labels":true,"title":null}},
   "y":{"field":"value","type":"quantitative","scale":{"domain":[-0.012,0.5],"nice":false,"zero":false},"axis":{"values":[0,0.2,0.4],"format":".1f","title":null}}},
  "layer":[
   {"data":{"name":"obs"},"transform":[{"filter":"datum.panel=='po4'"}],"mark":{"type":"line","interpolate":"cardinal","color":"black","strokeWidth":1.1,"clip":true},"encoding":{"strokeDash":{"field":"series","type":"nominal","scale":{"domain":["PAME-I","PAME-II"],"range":[[1,0],[7,4]]},"legend":null}}},
   {"data":{"name":"obs"},"transform":[{"filter":"datum.panel=='po4'"}],"mark":{"type":"point","shape":"circle","filled":true,"size":38,"stroke":"black","strokeWidth":1,"opacity":1},"encoding":{"fill":{"field":"series","type":"nominal","scale":{"domain":["PAME-I","PAME-II"],"range":["black","white"]},"legend":null}}}]},
 {"width":109.5,"height":131.5,"title":{"text":"Model","anchor":"start","frame":"group","baseline":"top","offset":-18,"dx":10,"fontSize":13.5},
  "encoding":{"x":{"field":"day","type":"quantitative","scale":{"domain":[-1.56,13.56],"nice":false,"zero":false},"axis":{"values":[0,2,4,6,8,10,12],"labels":true,"title":null}},
   "y":{"field":"value","type":"quantitative","scale":{"domain":[-0.012,0.5],"nice":false,"zero":false},"axis":null}},
  "layer":[
   {"data":{"name":"model"},"transform":[{"filter":"datum.panel=='po4' && datum.series=='PAME-I'"}],"mark":{"type":"line","interpolate":"monotone","color":"black","strokeWidth":1.1,"clip":true},"encoding":{}},
   {"data":{"name":"model"},"transform":[{"filter":"datum.panel=='po4' && datum.series=='PAME-II'"}],"mark":{"type":"line","interpolate":"monotone","color":"black","strokeWidth":1.1,"strokeDash":[10,4.5],"clip":true},"encoding":{}},
   {"data":{"name":"model"},"transform":[{"filter":"datum.panel=='po4' && datum.series=='MEDEA'"}],"mark":{"type":"line","interpolate":"monotone","color":"black","strokeWidth":1.6,"strokeDash":[1.5,2.5],"clip":true},"encoding":{}}]}
]}]}
],
"config":{
 "font":"Liberation Serif",
 "background":"white",
 "view":{"stroke":"#222","strokeWidth":1},
 "title":{"font":"Liberation Serif","fontWeight":"normal","color":"black"},
 "axis":{"grid":false,"domain":false,"ticks":true,"tickColor":"#222","tickSize":5,"labelFont":"Liberation Serif","labelFontSize":14,"labelColor":"black","labelPadding":2,"labelFlush":false,"labelOverlap":false},
 "axisX":{"labelPadding":9,"minExtent":28,"maxExtent":28},
 "axisY":{"minExtent":28,"maxExtent":28}
}
}
